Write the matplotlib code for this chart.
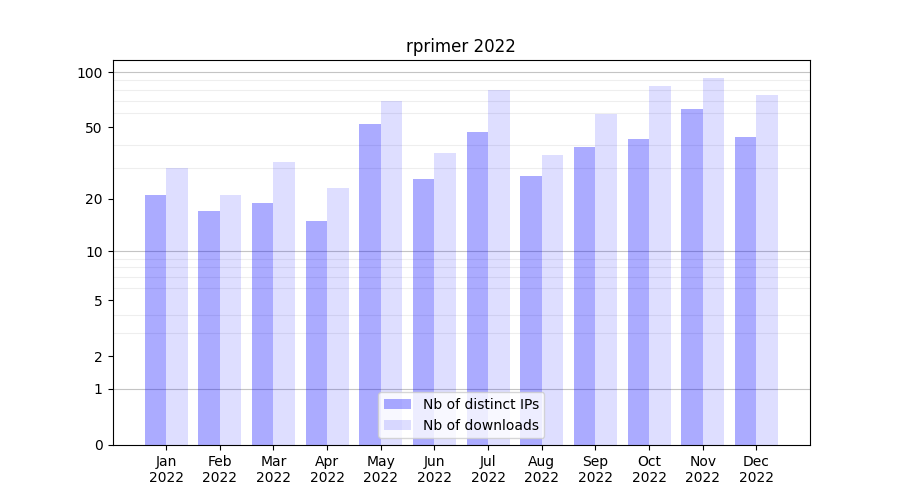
import numpy as np
import matplotlib.pyplot as plt

months = ["Jan", "Feb", "Mar", "Apr", "May", "Jun",
          "Jul", "Aug", "Sep", "Oct", "Nov", "Dec"]
year = "2022"
ips = [21, 17, 19, 15, 52, 26, 47, 27, 39, 43, 63, 44]
downloads = [30, 21, 32, 23, 70, 36, 80, 35, 59, 84, 93, 75]


def fwd(v):
    return np.log10(np.asarray(v, dtype=float) + 1)


def inv(v):
    return 10 ** np.asarray(v, dtype=float) - 1


fig = plt.figure(figsize=(9, 5), dpi=100)
ax = fig.add_subplot()
x = np.arange(len(months))
ax.bar(x - 0.4, ips, width=0.4, align="edge", color="blue", alpha=0.33,
       label="Nb of distinct IPs")
ax.bar(x, downloads, width=0.4, align="edge", color="blue", alpha=0.13,
       label="Nb of downloads")

ax.set_yscale("function", functions=(fwd, inv))
ax.set_ylim(0, max(downloads) * 1.25)
ax.set_xlim(-1, len(months))
ax.set_yticks([0, 1, 2, 5, 10, 20, 50, 100])
ax.set_yticklabels(["0", "1", "2", "5", "10", "20", "50", "100"])
ax.set_yticks([k * d for d in (1, 10) for k in range(2, 10)], minor=True)
ax.tick_params(axis="y", which="minor", length=0)
ax.grid(axis="y", which="minor", color="#eeeeee", linewidth=0.8)
for d in (1, 10, 100):
    ax.axhline(d, color="#c4c4c4", linewidth=0.8, zorder=0.5)
ax.set_axisbelow(True)

ax.set_xticks(x)
ax.set_xticklabels([m + "\n" + year for m in months])
ax.set_title("rprimer " + year)
ax.legend(loc="lower center")
fig.savefig("out.png")
